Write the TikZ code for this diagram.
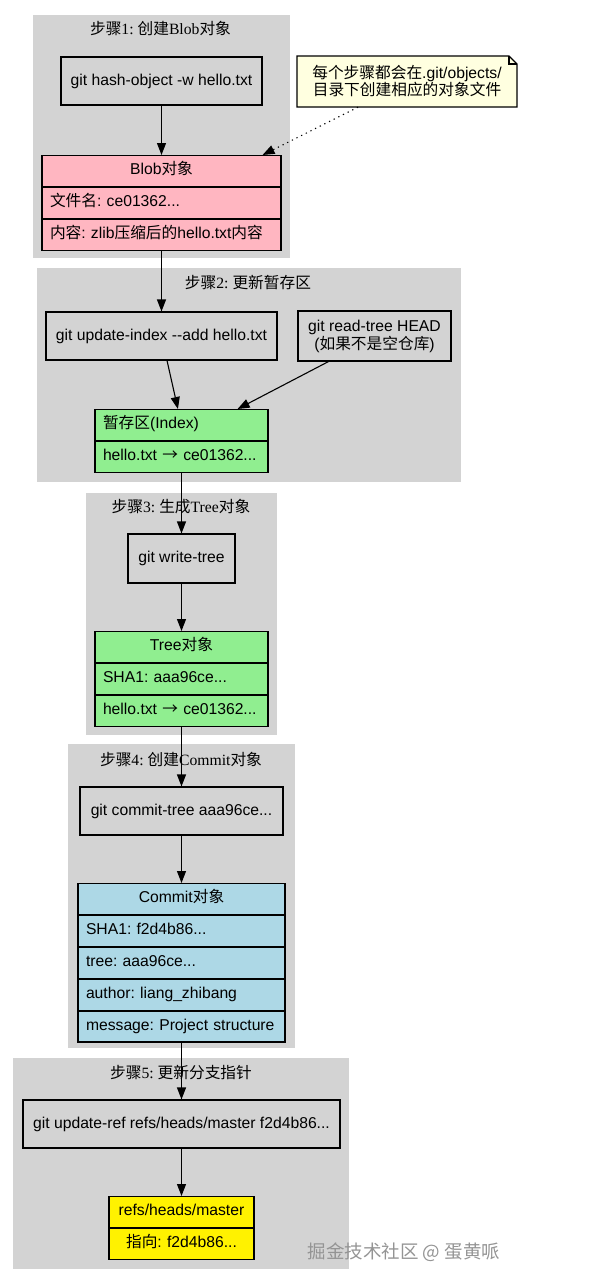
\documentclass[tikz,border=0pt]{standalone}
\usepackage{fontspec}
\setmainfont{Liberation Serif}
\setsansfont{Liberation Sans}
\newfontfamily\cjk{Noto Sans CJK SC}
\newcommand{\zh}[1]{{\cjk #1}}
\newcommand{\toarrow}{{\cjk →}}
\frenchspacing
\usetikzlibrary{positioning,calc,arrows.meta}
\definecolor{clustergray}{HTML}{D3D3D3}
\definecolor{blobpink}{HTML}{FFB6C1}
\definecolor{stagegreen}{HTML}{90EE90}
\definecolor{commitblue}{HTML}{ADD8E6}
\definecolor{notebg}{HTML}{FFFFE0}

\begin{document}
\begin{tikzpicture}[x=1pt,y=-1pt,>={Triangle[length=12pt,width=9pt]},
  title/.style={font=\fontsize{15.7}{18}\selectfont},
  cmd/.style={draw,line width=1.1pt,font=\sffamily\fontsize{15.7}{18}\selectfont,align=center,inner sep=0pt},
  field/.style={draw,line width=1.1pt,font=\sffamily\fontsize{15.7}{18}\selectfont,text width=#1,align=left,
    inner xsep=8pt,inner ysep=0pt,minimum height=30.8pt,text height=11.5pt,text depth=3.5pt},
  flow/.style={->,line width=1.1pt}]
  \useasboundingbox (0,0) rectangle (599,1285);
  \fill[clustergray] (33,15) rectangle (290,258);
  \fill[clustergray] (37,268) rectangle (461,482);
  \fill[clustergray] (86,493) rectangle (277,735);
  \fill[clustergray] (68,744) rectangle (295,1048);
  \fill[clustergray] (13,1058) rectangle (349,1269);
  \node[title] (t1) at (160.5,29) {\zh{步骤}1: \zh{创建}Blob\zh{对象}};
  \node[title] (t2) at (248,283) {\zh{步骤}2: \zh{更新暂存区}};
  \node[title] (t3) at (181,507) {\zh{步骤}3: \zh{生成}Tree\zh{对象}};
  \node[title] (t4) at (181,759) {\zh{步骤}4: \zh{创建}Commit\zh{对象}};
  \node[title] (t5) at (181,1073) {\zh{步骤}5: \zh{更新分支指针}};

  \node[cmd,minimum width=201pt,minimum height=48pt] (hash) at (161.5,81) {git hash-object -w hello.txt};
  \node[field=223pt,align=center,fill=blobpink,anchor=north] (blobhead) at (161.5,155) {Blob\zh{对象}};
  \node[field=223pt,fill=blobpink,below=0pt of blobhead] (blobname) {\zh{文件名}: ce01362...};
  \node[field=223pt,fill=blobpink,below=0pt of blobname] (blobdata) {\zh{内容}: zlib\zh{压缩后的}hello.txt\zh{内容}};

  \filldraw[line width=1.1pt,fill=notebg] (297,56) -- (509,56) -- (517,64) -- (517,107) -- (297,107) -- cycle;
  \draw[line width=1.1pt] (509,56) -- (509,64) -- (517,64);
  \node[font=\sffamily\fontsize{15.7}{17}\selectfont,align=center,minimum width=220pt,minimum height=51pt,inner sep=0pt] (note) at (407,81.5)
    {\zh{每个步骤都会在}.git/objects/\\\zh{目录下创建相应的对象文件}};

  \node[cmd,minimum width=231pt,minimum height=48pt] (upindex) at (161.5,336) {git update-index {-}{-}add hello.txt};
  \node[cmd,minimum width=153pt,minimum height=50pt] (readtree) at (374.5,336) {git read-tree HEAD\\(\zh{如果不是空仓库})};
  \node[field=157pt,fill=stagegreen,anchor=north] (indexhead) at (181.5,409) {\zh{暂存区}(Index)};
  \node[field=157pt,fill=stagegreen,below=0pt of indexhead] (indexfile) {hello.txt \toarrow{} ce01362...};

  \node[cmd,minimum width=107pt,minimum height=49pt] (writetree) at (181.5,558.5) {git write-tree};
  \node[field=157pt,align=center,fill=stagegreen,anchor=north] (treehead) at (181.5,631) {Tree\zh{对象}};
  \node[field=157pt,fill=stagegreen,below=0pt of treehead] (treesha) {SHA1: aaa96ce...};
  \node[field=157pt,fill=stagegreen,below=0pt of treesha] (treefile) {hello.txt \toarrow{} ce01362...};

  \node[cmd,minimum width=203pt,minimum height=48pt] (committree) at (181.5,811) {git commit-tree aaa96ce...};
  \node[field=191pt,align=center,fill=commitblue,anchor=north] (commithead) at (181.5,883) {Commit\zh{对象}};
  \node[field=191pt,fill=commitblue,below=0pt of commithead] (commitsha) {SHA1: f2d4b86...};
  \node[field=191pt,fill=commitblue,below=0pt of commitsha] (committree2) {tree: aaa96ce...};
  \node[field=191pt,fill=commitblue,below=0pt of committree2] (commitauthor) {author: liang\_zhibang};
  \node[field=191pt,fill=commitblue,below=0pt of commitauthor] (commitmsg) {message: Project structure};

  \node[cmd,minimum width=317pt,minimum height=48pt] (updateref) at (181.5,1124) {git update-ref refs/heads/master f2d4b86...};
  \node[field=129pt,align=center,fill=yellow,anchor=north] (refhead) at (181.5,1196) {refs/heads/master};
  \node[field=129pt,align=center,fill=yellow,below=0pt of refhead] (refsha) {\zh{指向}: f2d4b86...};

  \draw[flow] (hash) -- (blobhead);
  \draw[flow,dash pattern=on 1.2pt off 4pt] ($(note.south)+(-49,0)$) -- ($(blobhead.north east)+(-19,0)$);
  \draw[flow] (blobdata.south) -- (blobdata.south |- upindex.north);
  \draw[flow] (upindex) -- (indexhead);
  \draw[flow] ($(readtree.south)+(-46,0)$) -- ($(indexhead.north east)+(-31,0)$);
  \draw[flow] (indexfile) -- (writetree);
  \draw[flow] (writetree) -- (treehead);
  \draw[flow] (treefile) -- (committree);
  \draw[flow] (committree) -- (commithead);
  \draw[flow] (commitmsg) -- (updateref);
  \draw[flow] (updateref) -- (refhead);

  \node[font=\cjk\fontsize{18.5}{20}\selectfont,text=black!42] (mark) at (404,1252) {掘金技术社区 @ 蛋黄哌};
\end{tikzpicture}
\end{document}
